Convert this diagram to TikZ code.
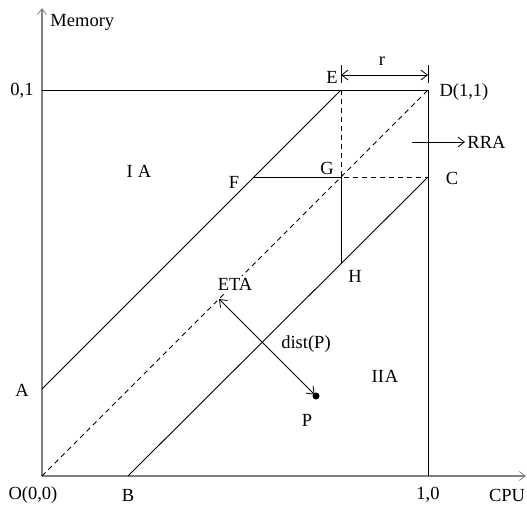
\documentclass[tikz,border=0pt]{standalone}
\usepackage{fontspec}
\setmainfont{Liberation Serif}
\usetikzlibrary{arrows.meta}
\begin{document}
\begin{tikzpicture}[x=1pt,y=-1pt, line width=0.9pt,
  lbl/.style={inner sep=0pt, font=\fontsize{18.5}{22}\selectfont},
  barb/.style={-{Straight Barb[length=6.5pt,width=10pt,line width=0.8pt]}},
  dbarb/.style={{Straight Barb[length=6.5pt,width=10pt,line width=0.8pt]}-{Straight Barb[length=6.5pt,width=10pt,line width=0.8pt]}},
  axis/.style={draw=gray, line width=1.5pt},
  dashln/.style={dash pattern=on 5pt off 4pt}]
\useasboundingbox (0,0) rectangle (527,504);
% key points
\coordinate (O) at (42,476);
\coordinate (Ytop) at (42,8);
\coordinate (Xend) at (526,476);
\coordinate (Y1) at (42,90);
\coordinate (D) at (428,90);
\coordinate (X1) at (428,476);
\coordinate (E) at (341,90);
\coordinate (C) at (428,177);
\coordinate (G) at (341,177);
\coordinate (F) at (254,177);
\coordinate (H) at (341,264);
\coordinate (A) at (42,389);
\coordinate (B) at (128,476);
\coordinate (T) at (219,299);
\coordinate (P) at (316,396);
\coordinate (rL) at (341,75);
\coordinate (rR) at (428,75);
\coordinate (rLt) at (341,65);
\coordinate (rLb) at (341,83);
\coordinate (rRt) at (428,65);
\coordinate (rRb) at (428,83);
\coordinate (RRAs) at (412,142);
\coordinate (RRAe) at (465,142);
% axes
\draw[axis, -{Straight Barb[length=6pt,width=9pt,line width=0.8pt]}] (O) -- (Ytop);
\draw[axis, -{Straight Barb[length=6pt,width=9pt,line width=0.8pt]}] (O) -- (Xend);
% square
\draw (Y1) -- (D) -- (X1);
% diagonals
\draw (A) -- (E);
\draw (B) -- (C);
\draw[dashln] (O) -- (D);
\draw[dashln] (E) -- (G) -- (C);
\draw (F) -- (G) -- (H);
% r dimension
\draw[line width=0.8pt] (rLt) -- (rLb);
\draw[line width=0.8pt] (rRt) -- (rRb);
\draw[dbarb] (rL) -- (rR);
% RRA arrow
\draw[barb] (RRAs) -- (RRAe);
% dist arrow
\draw[dbarb, line width=0.8pt, shorten >=2pt] (T) -- (P);
\fill (P) circle (3.5pt);
% labels
\node[lbl, anchor=west] (lmem) at (50,22) {Memory};
\node[lbl] (l01) at (22,91) {0,1};
\node[lbl] (lA) at (22,390) {A};
\node[lbl] (lO) at (33,495) {O(0,0)};
\node[lbl] (lB) at (128,495) {B};
\node[lbl] (l10) at (428,495) {1,0};
\node[lbl] (lcpu) at (507,495) {CPU};
\node[lbl] (lE) at (332,77) {E};
\node[lbl] (lr) at (382,61) {r};
\node[lbl] (lD) at (464,92) {D(1,1)};
\node[lbl, anchor=west] (lRRA) at (467,142) {RRA};
\node[lbl] (lC) at (452,178) {C};
\node[lbl] (lG) at (327,168) {G};
\node[lbl] (lF) at (234,182) {F};
\node[lbl] (lH) at (355,276) {H};
\node[lbl, fill=white, inner sep=2pt] (lETA) at (235,284) {ETA};
\node[lbl] (ldist) at (306,344) {dist(P)};
\node[lbl] (lP) at (307,420) {P};
\node[lbl] (lIA) at (139,171) {I\hspace{5pt}A};
\node[lbl] (lIIA) at (385,376) {II\hspace{1pt}A};
\end{tikzpicture}
\end{document}
